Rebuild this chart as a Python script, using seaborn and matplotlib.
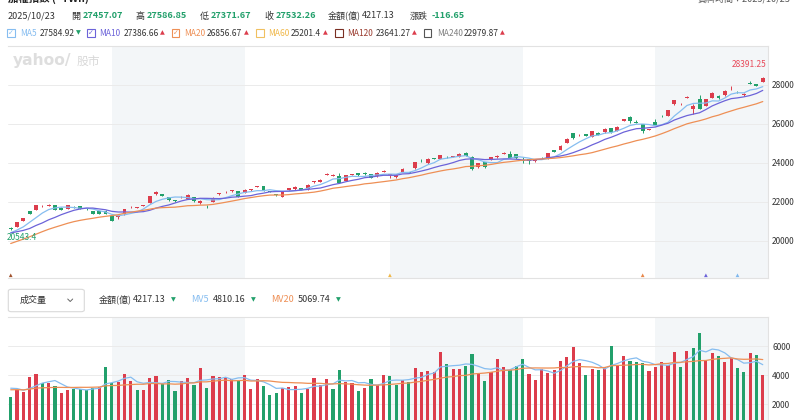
import numpy as np
import pandas as pd
import matplotlib
matplotlib.use("Agg")
import matplotlib.pyplot as plt
import seaborn as sns
from matplotlib.patches import Rectangle, FancyBboxPatch
from matplotlib.lines import Line2D

W, H = 800, 420

# 19 sessions before the first visible one, only used to warm up the moving averages
prior_close = [18700, 18900, 19000, 19200, 19200, 19400, 19500, 19600, 19800, 20000,
               20300, 20500, 20400, 20300, 20500, 20250, 20350, 20200, 20680]
prior_amount = [2800, 3100, 2900, 2700, 3000, 3200, 2900, 2800, 3100, 3000,
                2900, 3050, 2950, 2900, 3000, 3100, 3400, 3300, 3176]

open_ = [20640, 20733, 21026, 21538, 21590, 21780, 21800, 21830, 21692, 21641,
         21760, 21778, 21640, 21538, 21530, 21550, 21297, 21230, 21370, 21720,
         21700, 21800, 21964, 22395, 22395, 22256, 22090, 22230, 22170, 22256,
         21933, 21850, 22015, 22400, 22490, 22550, 22550, 22475, 22600, 22770,
         22820, 22560, 22390, 22270, 22615, 22650, 22718, 22650, 23000, 23030,
         23400, 23350, 23333, 23092, 23390, 23470, 23470, 23436, 23318, 23560,
         23370, 23266, 23538, 23510, 23728, 24120, 23985, 24240, 24220, 24320,
         24310, 24323, 24528, 24323, 23780, 24035, 24150, 24300, 24480, 24477,
         24460, 24140, 24200, 24090, 24270, 24240, 24665, 24665, 25040, 25520,
         25410, 25480, 25350, 25560, 25570, 25790, 25640, 26150, 26370, 26100,
         25985, 25700, 26100, 26420, 26425, 27010, 27000, 27340, 26750, 27265,
         26925, 27350, 27450, 27470, 27770, 27640, 27480, 28080, 28030, 28170]
high = [20700, 20990, 21200, 21560, 21870, 21830, 21880, 21860, 21720, 21860,
        21790, 21800, 21680, 21560, 21560, 21570, 21310, 21270, 21640, 21790,
        21750, 21870, 22330, 22540, 22420, 22270, 22120, 22300, 22400, 22280,
        22090, 21870, 22240, 22480, 22560, 22630, 22570, 22640, 22670, 22830,
        22840, 22580, 22420, 22530, 22740, 22810, 22740, 22910, 23080, 23160,
        23470, 23410, 23490, 23390, 23440, 23490, 23560, 23450, 23520, 23640,
        23430, 23410, 23720, 23530, 24070, 24180, 24230, 24280, 24420, 24380,
        24370, 24500, 24550, 24340, 24000, 24050, 24310, 24400, 24560, 24615,
        24480, 24320, 24220, 24150, 24320, 24520, 24690, 24910, 25260, 25550,
        25480, 25500, 25650, 25580, 25780, 25810, 25880, 26280, 26400, 26180,
        26000, 25760, 26280, 26440, 26740, 27250, 27060, 27420, 27000, 27500,
        27290, 27630, 27480, 27720, 27950, 27680, 27590, 28180, 28060, 28391.25]
low = [20543.4, 20700, 21000, 21360, 21570, 21760, 21780, 21570, 21580, 21620,
       21680, 21630, 21580, 21370, 21370, 21360, 21020, 21150, 21350, 21700,
       21690, 21780, 21950, 22380, 22290, 22070, 21990, 22210, 22150, 22010,
       21880, 21700, 22000, 22380, 22470, 22530, 22250, 22460, 22580, 22750,
       22560, 22500, 22300, 22250, 22600, 22630, 22600, 22630, 22980, 23010,
       23380, 23330, 22970, 23070, 23370, 23350, 23400, 23210, 23300, 23540,
       23230, 23240, 23520, 23480, 23710, 24060, 23970, 24190, 24200, 24270,
       24290, 24300, 24340, 23650, 23760, 23760, 24130, 24280, 24460, 24240,
       24220, 23990, 23960, 24070, 24200, 24220, 24560, 24640, 25020, 25240,
       25390, 25360, 25330, 25410, 25550, 25560, 25620, 26130, 26050, 26040,
       25560, 25680, 25930, 26380, 26400, 26990, 26980, 27330, 26500, 26750,
       26900, 27330, 27300, 27450, 27750, 27600, 27460, 28040, 27940, 28150]
close = [20615, 20959, 21164, 21385, 21846, 21800, 21850, 21590, 21600, 21830,
         21700, 21650, 21620, 21385, 21400, 21380, 21041, 21250, 21625, 21760,
         21730, 21846, 22308, 22497, 22308, 22087, 22070, 22280, 22375, 22035,
         22069, 21830, 22220, 22450, 22530, 22590, 22270, 22615, 22640, 22790,
         22580, 22520, 22370, 22510, 22718, 22785, 22615, 22887, 23050, 23128,
         23436, 23385, 22990, 23368, 23410, 23368, 23420, 23230, 23500, 23580,
         23420, 23390, 23692, 23500, 24051, 24100, 24205, 24220, 24395, 24300,
         24340, 24477, 24358, 23677, 23985, 23780, 24290, 24350, 24520, 24256,
         24240, 24110, 24120, 24130, 24250, 24495, 24580, 24887, 25230, 25260,
         25450, 25380, 25625, 25430, 25760, 25580, 25860, 26256, 26170, 26070,
         25625, 25740, 25950, 26400, 26718, 27230, 27040, 27360, 26920, 26785,
         27265, 27600, 27320, 27690, 27790, 27620, 27560, 28060, 27960, 28375]
# 成交金額(億)
amount = [2524, 2986, 2828, 3903, 4090, 3448, 3448, 3262, 2759, 2986,
          3076, 3076, 2986, 3124, 3214, 4593, 3490, 3540, 4069, 3628,
          2986, 2986, 3834, 3952, 3400, 3676, 2940, 3628, 3834, 3331,
          4483, 3100, 3952, 3903, 3860, 3724, 3628, 4040, 3030, 3747,
          3262, 2641, 2759, 3145, 3214, 3262, 2759, 3076, 3834, 3310,
          3724, 3055, 4366, 3562, 3448, 2940, 3145, 3724, 3310, 4020,
          3952, 3310, 3676, 3517, 4524, 4228, 4276, 4207, 5628, 4759,
          4430, 4430, 4643, 5490, 4090, 3628, 4207, 5145, 4545, 4366,
          4643, 5100, 4069, 3676, 4407, 4183, 4366, 4986, 5283, 5931,
          4828, 4000, 4430, 4345, 4545, 6021, 4712, 5331, 5010, 4920,
          4828, 4320, 4600, 4940, 4690, 5605, 4545, 5670, 5905, 6897,
          5055, 5514, 5354, 4897, 5170, 4500, 4250, 5514, 5375, 4000]

# first session of Jun, Jul, Aug, Sep, Oct
month_start = [16, 37, 60, 81, 102]
event_idx = [0, 60, 100, 110, 115]
event_colors = ['#a0522d', '#f0b84a', '#e8874a', '#6c63d9', '#7fb8ee']

price_ticks = [20000, 22000, 24000, 26000, 28000]
vol_ticks = [2000, 4000, 6000]

quote_date = '2025/10/23'
quote_labels = ['開', '高', '低', '收']
quote_values = ['27457.07', '27586.85', '27371.67', '27532.26']
quote_amount = '4217.13'
quote_change = '-116.65'

ma_names = ['MA5', 'MA10', 'MA20', 'MA60', 'MA120', 'MA240']
ma_values = ['27584.92', '27386.66', '26856.67', '25201.4', '23641.27', '22979.87']
ma_up = [False, True, True, True, True, True]
ma_checked = [True, True, True, False, False, False]

mv_names = ['MV5', 'MV20']
mv_values = ['4810.16', '5069.74']

RED = '#dc3d4c'
GREEN = '#22a06b'
DARK = '#333333'
SHADE = '#f3f6f8'
GRID = '#ebebeb'
MA_COLORS = ['#86bdf0', '#6c63d9', '#ee8f55', '#f0b84a', '#9a3b2e', '#808080']
BOX_COLORS = ['#86bdf0', '#6c63d9', '#ee8f55', '#f0c060', '#7a2e22', '#555555']


def fmt(v):
    s = f"{v:.2f}".rstrip('0')
    return s.rstrip('.')


def main():
    sns.set_theme(style="white")
    plt.rcParams['font.family'] = ['Noto Sans CJK TC', 'DejaVu Sans']
    plt.rcParams['axes.unicode_minus'] = False

    k = len(prior_close)
    closes_all = pd.Series(prior_close + close, dtype=float)
    amt_all = pd.Series(prior_amount + amount, dtype=float)

    df = pd.DataFrame({'idx': np.arange(len(close)), 'open': open_, 'high': high,
                       'low': low, 'close': close, 'amount': amount})
    for w in (5, 10, 20):
        df[f'ma{w}'] = closes_all.rolling(w).mean().iloc[k:].to_numpy()
    for w in (5, 20):
        df[f'mv{w}'] = amt_all.rolling(w).mean().iloc[k:].to_numpy()
    prev_close = closes_all.shift(1).iloc[k:].to_numpy()

    fig = plt.figure(figsize=(W / 100, H / 100), dpi=100)
    fig.patch.set_facecolor('white')

    def ftext(x, y, s, **kw):
        kw.setdefault('fontsize', 6.5)
        kw.setdefault('va', 'center')
        kw.setdefault('color', DARK)
        fig.text(x / W, 1 - y / H, s, **kw)

    def fbox(x, y, w, h, ec, checked):
        fig.add_artist(Rectangle((x / W, 1 - (y + h / 2) / H), w / W, h / H,
                                 transform=fig.transFigure, fc='white', ec=ec, lw=0.8))
        if checked:
            ftext(x + w / 2, y, '✓', fontsize=5, color=ec, ha='center',
                  family=['DejaVu Sans'])

    xmin, xmax = -0.43, len(close) - 1 + 0.83

    # ---- price pane
    ax = fig.add_axes([8 / W, 1 - 278 / H, 760 / W, 232 / H])
    axv = fig.add_axes([8 / W, 1 - 433 / H, 760 / W, 115.6 / H])

    bands = [(month_start[0], month_start[1]), (month_start[2], month_start[3]),
             (month_start[4], xmax)]
    for a in (ax, axv):
        for s, e in bands:
            a.axvspan(s, e, color=SHADE, lw=0, zorder=0)

    up = df['close'] >= df['open']
    ccol = np.where(up, RED, GREEN)
    ax.vlines(df['idx'], df['low'], df['high'], colors=ccol, lw=0.7, zorder=2)
    body = np.maximum((df['close'] - df['open']).abs(), 25)
    ax.bar(df['idx'], body, bottom=np.minimum(df['open'], df['close']), width=0.62,
           color=ccol, lw=0, zorder=3)

    sns.lineplot(data=df, x='idx', y='ma5', ax=ax, color=MA_COLORS[0], lw=0.9, zorder=4)
    sns.lineplot(data=df, x='idx', y='ma10', ax=ax, color=MA_COLORS[1], lw=0.9, zorder=4)
    sns.lineplot(data=df, x='idx', y='ma20', ax=ax, color=MA_COLORS[2], lw=0.9, zorder=4)

    ax.scatter(event_idx, [18240] * len(event_idx), marker='^', s=7, c=event_colors,
               lw=0, zorder=5, clip_on=False)

    imax = int(np.argmax(df['high']))
    imin = int(np.argmin(df['low']))
    ax.text(xmax - 0.3, 29030, fmt(df['high'][imax]), color='#e84a5a', fontsize=6,
            ha='right', va='center', zorder=6)
    ax.text(xmin - 0.15, 20170, fmt(df['low'][imin]), color=GREEN, fontsize=6,
            ha='left', va='center', zorder=6, clip_on=False)

    ax.set_xlim(xmin, xmax)
    ax.set_ylim(18100, 30000)
    ax.set_yticks(price_ticks)
    ax.set_xticks([])

    # ---- volume pane
    vcol = np.where(df['close'].to_numpy() >= prev_close, RED, GREEN)
    axv.bar(df['idx'], df['amount'], width=0.5, color=vcol, lw=0, zorder=3)
    sns.lineplot(data=df, x='idx', y='mv5', ax=axv, color=MA_COLORS[0], lw=0.9, zorder=4)
    sns.lineplot(data=df, x='idx', y='mv20', ax=axv, color=MA_COLORS[2], lw=0.9, zorder=4)
    axv.set_xlim(xmin, xmax)
    axv.set_ylim(0, 8000)
    axv.set_yticks(vol_ticks)
    axv.set_xticks([])

    for a in (ax, axv):
        a.set_facecolor('none')
        a.set_xlabel('')
        a.set_ylabel('')
        a.yaxis.tick_right()
        a.tick_params(axis='y', length=0, pad=3, labelsize=6, labelcolor=DARK)
        a.grid(axis='y', color=GRID, lw=0.7)
        a.set_axisbelow(True)
        a.spines['left'].set_visible(False)
        for sp in ('top', 'right', 'bottom'):
            a.spines[sp].set_color('#e2e2e2')
            a.spines[sp].set_linewidth(0.8)
    axv.spines['bottom'].set_visible(False)

    # watermark
    ftext(13, 61, 'yahoo/', fontsize=11.2, fontweight='bold', color='#dedede',
          family=['DejaVu Sans'])
    ftext(77, 61, '股市', fontsize=8.5, color='#d8d8d8')

    # ---- header, partially cut off at the top as in the page capture
    ftext(8, -1.5, '加權指數 (^TWII)', fontsize=7.5, fontweight='bold', color='#222222')
    ftext(790, -1.5, '資料時間：2025/10/23', fontsize=6.5, color='#555555', ha='right')

    ftext(8, 16, quote_date)
    lab_x = [71.5, 135.5, 199.5, 264]
    val_x = [82.7, 146.7, 210.7, 276]
    for lx, vx, lab, val in zip(lab_x, val_x, quote_labels, quote_values):
        ftext(lx, 16, lab)
        ftext(vx, 16, val, color=GREEN, fontweight='bold')
    ftext(328, 16, '金額(億)')
    ftext(361.5, 16, quote_amount)
    ftext(410, 16, '漲跌')
    ftext(431.5, 16, quote_change, color=GREEN, fontweight='bold')

    box_x = [7.3, 87.3, 171.7, 256, 335, 423.5]
    name_x = [20, 99.3, 184, 267.7, 346.7, 436.7]
    mval_x = [39.3, 123.3, 206.7, 290.7, 376, 464]
    arr_x = [76, 160, 244, 322.7, 411.5, 500]
    for i in range(len(ma_names)):
        fbox(box_x[i], 33, 7.5, 7.5, BOX_COLORS[i], ma_checked[i])
        ftext(name_x[i], 33, ma_names[i], fontsize=6, color=MA_COLORS[i])
        ftext(mval_x[i], 33, ma_values[i], fontsize=6)
        ftext(arr_x[i], 33, '▲' if ma_up[i] else '▼', fontsize=4.5,
              color=RED if ma_up[i] else GREEN, family=['DejaVu Sans'])

    # ---- volume header
    fig.add_artist(FancyBboxPatch((8.3 / W, 1 - 311.7 / H), 76 / W, 22.4 / H,
                                  boxstyle='round,pad=0,rounding_size=0.004',
                                  transform=fig.transFigure, fc='white', ec='#d9d9d9', lw=0.8))
    ftext(19.3, 300.5, '成交量')
    fig.add_artist(Line2D([67.7 / W, 70.2 / W, 72.7 / W],
                          [1 - 299 / H, 1 - 301.5 / H, 1 - 299 / H],
                          transform=fig.transFigure, color='#666666', lw=0.7))
    ftext(98.3, 300, '金額(億)')
    ftext(132.7, 300, quote_amount)
    ftext(170.7, 300, '▼', fontsize=4.5, color=GREEN, family=['DejaVu Sans'])
    mv_name_x = [191, 270.7]
    mv_val_x = [212.7, 297.3]
    mv_arr_x = [251, 336]
    for i in range(len(mv_names)):
        ftext(mv_name_x[i], 300, mv_names[i], color=MA_COLORS[0] if i == 0 else MA_COLORS[2])
        ftext(mv_val_x[i], 300, mv_values[i])
        ftext(mv_arr_x[i], 300, '▼', fontsize=4.5, color=GREEN, family=['DejaVu Sans'])

    fig.savefig('out.png', dpi=100)
    plt.close(fig)


if __name__ == "__main__":
    main()
